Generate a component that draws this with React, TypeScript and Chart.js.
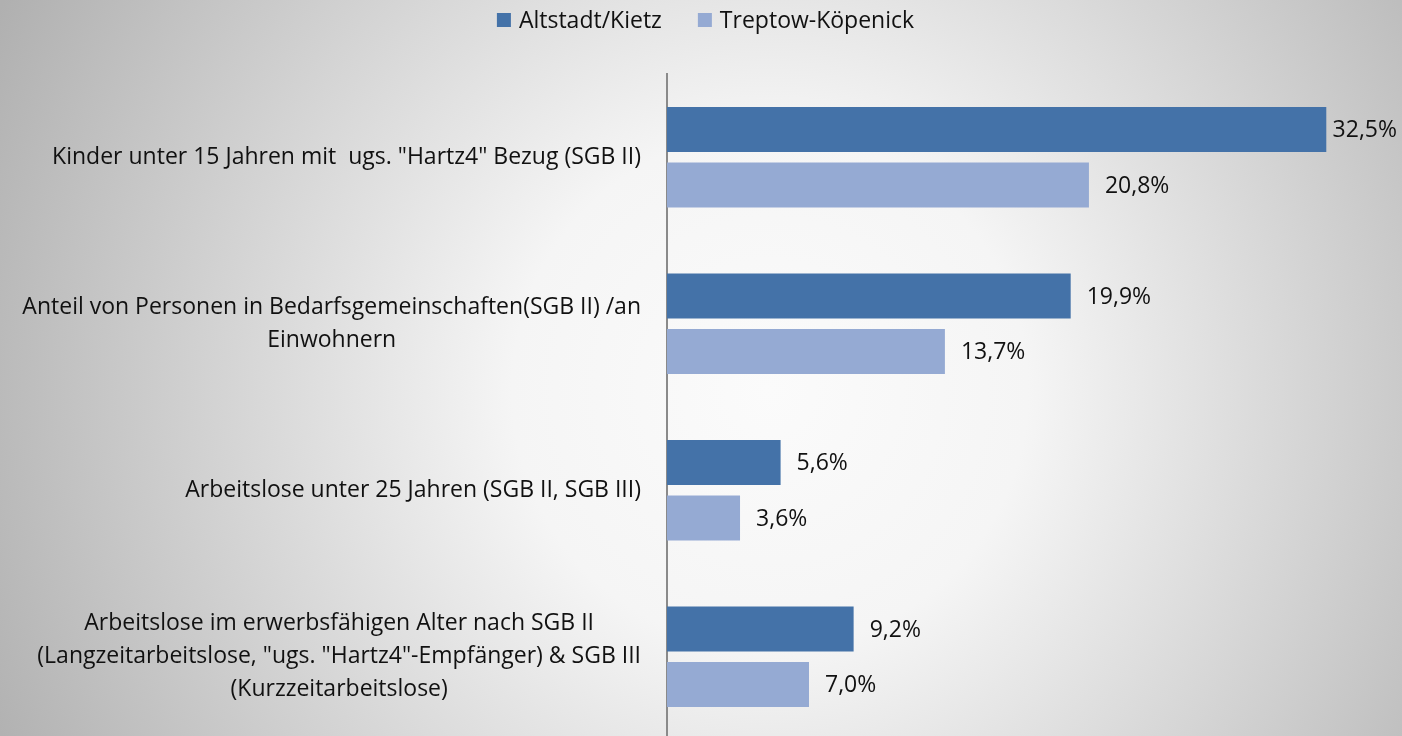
import React, { useEffect, useRef } from 'react';
import { Chart, registerables } from 'chart.js';

Chart.register(...registerables);

const categories: string[][] = [
  ['Kinder unter 15 Jahren mit  ugs. "Hartz4" Bezug (SGB II)'],
  ['Anteil von Personen in Bedarfsgemeinschaften(SGB II) /an', 'Einwohnern'],
  ['Arbeitslose unter 25 Jahren (SGB II, SGB III)'],
  [
    'Arbeitslose im erwerbsfähigen Alter nach SGB II',
    '(Langzeitarbeitslose, "ugs. "Hartz4"-Empfänger) & SGB III',
    '(Kurzzeitarbeitslose)',
  ],
];
const seriesNames = ['Altstadt/Kietz', 'Treptow-Köpenick'];
const altstadtValues = [32.5, 19.9, 5.6, 9.2];
const treptowValues = [20.8, 13.7, 3.6, 7.0];
const seriesColors = ['#4472A8', '#95AAD3'];

const FONT_FAMILY = "'Open Sans', Lato, sans-serif";
const FONT_SIZE = 23;
const FONT = `${FONT_SIZE}px ${FONT_FAMILY}`;
const TEXT_COLOR = '#111111';

const W = 1402;
const H = 742;

const customPlugin = {
  id: 'customDraw',
  beforeDraw(chart: any) {
    const { ctx, width, height } = chart;
    ctx.save();
    const g = ctx.createRadialGradient(770, 390, 0, 770, 390, 860);
    g.addColorStop(0, '#FBFBFB');
    g.addColorStop(0.3, '#F5F5F5');
    g.addColorStop(1, '#B0B0B0');
    ctx.fillStyle = g;
    ctx.fillRect(0, 0, width, height);
    ctx.restore();
  },
  afterDraw(chart: any) {
    const { ctx, width } = chart;
    ctx.save();
    ctx.font = FONT;
    ctx.fillStyle = TEXT_COLOR;

    // value labels
    chart.data.datasets.forEach((ds: any, di: number) => {
      const meta = chart.getDatasetMeta(di);
      meta.data.forEach((el: any, i: number) => {
        const v = ds.data[i] as number;
        const txt = v.toFixed(1).replace('.', ',') + '%';
        const tw = ctx.measureText(txt).width;
        const x = Math.min(el.x + 16, width - tw - 5);
        ctx.textAlign = 'left';
        ctx.textBaseline = 'middle';
        ctx.fillText(txt, x, el.y + 1);
      });
    });

    // category labels
    const yScale = chart.scales.y;
    const rightEdge = chart.chartArea.left - 26;
    const lineH = 33;
    categories.forEach((lines, i) => {
      const cy = yScale.getPixelForValue(i);
      const maxW = Math.max(...lines.map((l) => ctx.measureText(l).width));
      const cx = rightEdge - maxW / 2;
      const y0 = cy - ((lines.length - 1) * lineH) / 2;
      ctx.textAlign = 'center';
      ctx.textBaseline = 'middle';
      lines.forEach((l, li) => ctx.fillText(l, cx, y0 + li * lineH));
    });

    // legend
    const box = 14;
    const gap = 8;
    const itemGap = 36;
    const widths = seriesNames.map((n) => ctx.measureText(n).width);
    const total = widths.reduce((a, b) => a + b, 0) + seriesNames.length * (box + gap) + itemGap * (seriesNames.length - 1);
    let x = 705.5 - total / 2;
    const ly = 20;
    seriesNames.forEach((n, i) => {
      ctx.fillStyle = seriesColors[i];
      ctx.fillRect(x, ly - box / 2, box, box);
      x += box + gap;
      ctx.fillStyle = TEXT_COLOR;
      ctx.textAlign = 'left';
      ctx.textBaseline = 'middle';
      ctx.fillText(n, x, ly + 1);
      x += widths[i] + itemGap;
    });
    ctx.restore();
  },
};

export default function App() {
  const canvasRef = useRef<HTMLCanvasElement | null>(null);

  useEffect(() => {
    document.body.style.margin = '0';
    document.body.style.overflow = 'hidden';
    const canvas = canvasRef.current;
    if (!canvas) return;
    const chart = new Chart(canvas, {
      type: 'bar',
      data: {
        labels: categories.map((c) => c.join(' ')),
        datasets: [
          {
            label: seriesNames[0],
            data: altstadtValues,
            backgroundColor: seriesColors[0],
            categoryPercentage: 0.667,
            barPercentage: 0.81,
          },
          {
            label: seriesNames[1],
            data: treptowValues,
            backgroundColor: seriesColors[1],
            categoryPercentage: 0.667,
            barPercentage: 0.81,
          },
        ],
      },
      options: {
        indexAxis: 'y',
        responsive: false,
        maintainAspectRatio: false,
        animation: false,
        devicePixelRatio: 1,
        layout: { padding: { top: 74, bottom: 2, left: 0, right: 25 } },
        plugins: {
          legend: { display: false },
          tooltip: { enabled: false },
        },
        scales: {
          x: {
            display: false,
            min: 0,
            max: 35,
          },
          y: {
            type: 'category',
            offset: true,
            grid: { display: false, drawTicks: false },
            border: { display: true, color: '#8A8A8A', width: 2 },
            ticks: { display: false },
            afterFit: (scale: any) => {
              scale.width = 667;
            },
          },
        },
      },
      plugins: [customPlugin],
    } as any);
    return () => chart.destroy();
  }, []);

  return (
    <div style={{ width: W, height: H }}>
      <canvas ref={canvasRef} width={W} height={H} style={{ display: 'block', width: W, height: H }} />
    </div>
  );
}
